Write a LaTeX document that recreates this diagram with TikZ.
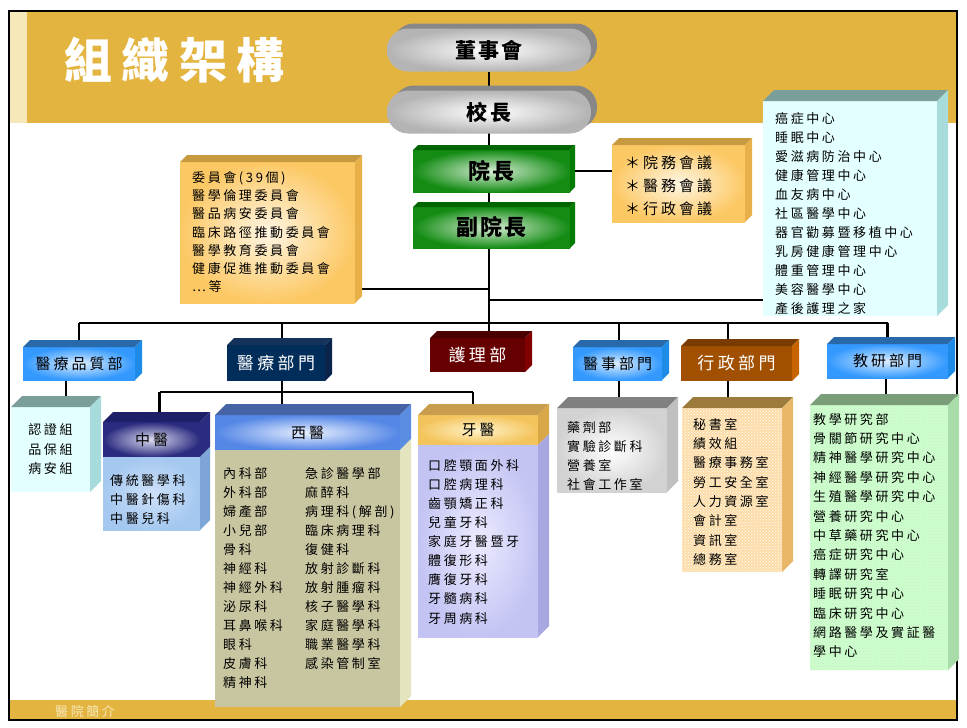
\documentclass[tikz,border=0pt]{standalone}
\usepackage{fontspec}
\setmainfont{Noto Sans CJK TC}
\newfontfamily\listfont[LetterSpace=20]{Noto Sans CJK TC}
\newfontfamily\boldspaced[LetterSpace=10]{Noto Sans CJK TC}
\usetikzlibrary{shadows,patterns}
\pgfdeclarelayer{back}
\pgfdeclarelayer{wires}
\pgfsetlayers{back,wires,main}

% Slide colours
\definecolor{gold}{RGB}{228,180,64}
\definecolor{palegold}{RGB}{246,232,184}
\definecolor{pillgray}{RGB}{180,180,180}
\definecolor{pillshade}{RGB}{135,135,135}
\definecolor{grnedge}{RGB}{20,140,20}
\definecolor{grnmid}{RGB}{215,238,215}
\definecolor{grntop}{RGB}{0,100,0}
\definecolor{grnside}{RGB}{0,125,0}
\definecolor{orgedge}{RGB}{252,200,100}
\definecolor{orgmid}{RGB}{255,246,228}
\definecolor{orgtop}{RGB}{200,154,64}
\definecolor{orgside}{RGB}{232,176,72}
\definecolor{cyanfront}{RGB}{228,255,255}
\definecolor{cyantop}{RGB}{122,158,154}
\definecolor{cyanside}{RGB}{168,220,220}
\definecolor{bluedge}{RGB}{51,153,255}
\definecolor{blumid}{RGB}{220,238,255}
\definecolor{blutop}{RGB}{40,105,170}
\definecolor{bluside}{RGB}{30,140,230}
\definecolor{navy}{RGB}{0,45,90}
\definecolor{navytop}{RGB}{20,50,90}
\definecolor{navyside}{RGB}{10,35,75}
\definecolor{maroon}{RGB}{102,0,0}
\definecolor{maroontop}{RGB}{75,0,0}
\definecolor{maroonside}{RGB}{128,0,0}
\definecolor{rust}{RGB}{160,80,0}
\definecolor{rusttop}{RGB}{120,60,0}
\definecolor{rustside}{RGB}{200,100,0}
\definecolor{indigo}{RGB}{43,43,128}
\definecolor{indigomid}{RGB}{220,220,240}
\definecolor{indigotop}{RGB}{30,30,105}
\definecolor{skyfront}{RGB}{165,200,240}
\definecolor{skymid}{RGB}{205,225,250}
\definecolor{skyside}{RGB}{125,165,215}
\definecolor{westedge}{RGB}{85,135,230}
\definecolor{westmid}{RGB}{232,240,255}
\definecolor{westtop}{RGB}{70,100,165}
\definecolor{westside}{RGB}{90,140,225}
\definecolor{khaki}{RGB}{200,198,160}
\definecolor{khakiside}{RGB}{228,228,190}
\definecolor{toothedge}{RGB}{244,196,92}
\definecolor{toothmid}{RGB}{255,242,200}
\definecolor{toothtop}{RGB}{200,158,78}
\definecolor{toothside}{RGB}{216,168,72}
\definecolor{lavender}{RGB}{196,196,244}
\definecolor{lavmid}{RGB}{235,235,255}
\definecolor{lavside}{RGB}{168,168,224}
\definecolor{silver}{RGB}{210,210,210}
\definecolor{silvertop}{RGB}{128,128,128}
\definecolor{silverside}{RGB}{192,192,192}
\definecolor{peach}{RGB}{252,220,168}
\definecolor{peachtop}{RGB}{156,122,60}
\definecolor{peachside}{RGB}{232,184,104}
\definecolor{mint}{RGB}{204,255,204}
\definecolor{minttop}{RGB}{122,158,122}
\definecolor{mintside}{RGB}{168,220,168}

\tikzset{
  wire/.style={line width=2.6pt},
  plainbox/.style={inner sep=0pt, outer sep=0pt},
  pill/.style={plainbox, rounded corners=21pt, minimum width=204, minimum height=43,
    inner color=white, outer color=pillgray,
    drop shadow={shadow xshift=6pt, shadow yshift=5pt, fill=pillshade, opacity=1},
    font=\fontsize{21}{21}\selectfont\boldspaced\bfseries},
  greenbox/.style={plainbox, minimum width=157, minimum height=42,
    inner color=grnmid, outer color=grnedge,
    font=\fontsize{22}{22}\selectfont\boldspaced\bfseries},
  dept/.style={plainbox, font=\fontsize{15}{15}\selectfont\listfont},
  bigdept/.style={plainbox, text=white, font=\fontsize{17}{17}\selectfont\listfont},
  head/.style={plainbox, font=\fontsize{15}{15}\selectfont\listfont},
  listtext/.style={inner sep=0pt, anchor=north west, align=left,
    font=\fontsize{13}{19}\selectfont\listfont},
}

% 3D faces of a box node: node, depth, colour
\newcommand{\topface}[3]{%
  \fill[#3] (#1.north west) -- ++(#2,-#2) -- ([shift={(#2,-#2)}]#1.north east) -- (#1.north east) -- cycle;}
\newcommand{\sideface}[3]{%
  \fill[#3] (#1.north east) -- ++(#2,-#2) -- ([shift={(#2,-#2)}]#1.south east) -- (#1.south east) -- cycle;}

\begin{document}
\begin{tikzpicture}[x=1pt,y=-1pt]
\useasboundingbox (0,0) rectangle (967,728);

% Slide background
\begin{pgfonlayer}{back}
\fill[white] (0,0) rectangle (967,728);
\fill[palegold] (9,11) rectangle (27,123);
\fill[gold] (27,11) rectangle (957,123);
\fill[gold] (9,700) rectangle (957,720);
\draw[line width=2pt] (9,11) rectangle (957,720);
\end{pgfonlayer}

\node[text=white, anchor=west, inner sep=0pt, font=\fontsize{48}{48}\selectfont\listfont\bfseries] (title) at (64,60) {組織架構};
\node[text=palegold, anchor=west, inner sep=0pt, font=\fontsize{13}{13}\selectfont\listfont] (footer) at (55,712) {醫院簡介};

% Top of the chart
\node[pill] (dongshi) at (489,50) {董事會};
\node[pill] (xiaozhang) at (489,112) {校長};
\node[greenbox] (yuanzhang) at (491.5,171) {院長};
\topface{yuanzhang}{5}{grntop}\sideface{yuanzhang}{5}{grnside}
\node[greenbox, minimum height=41] (fuyuan) at (491.5,227.5) {副院長};
\topface{fuyuan}{5}{grntop}\sideface{fuyuan}{5}{grnside}

% Side boxes
\node[plainbox, minimum width=133, minimum height=77, inner color=orgmid, outer color=orgedge] (huiyi) at (678.5,183.5) {};
\topface{huiyi}{7}{orgtop}\sideface{huiyi}{7}{orgside}
\node[listtext, font=\fontsize{15}{23}\selectfont\listfont] (huiyitext) at (625,156) {＊院務會議\\＊醫務會議\\＊行政會議};

\node[plainbox, minimum width=175, minimum height=141, inner color=orgmid, outer color=orgedge] (weiyuan) at (267.5,232.5) {};
\topface{weiyuan}{7}{orgtop}\sideface{weiyuan}{7}{orgside}
\node[listtext, font=\fontsize{13}{18.3}\selectfont\listfont] (weiyuantext) at (192,171) {委員會(39個)\\醫學倫理委員會\\醫品病安委員會\\臨床路徑推動委員會\\醫學教育委員會\\健康促進推動委員會\\…等};

\node[plainbox, minimum width=174, minimum height=215, fill=cyanfront] (zhongxin) at (850,208.5) {};
\topface{zhongxin}{11}{cyantop}\sideface{zhongxin}{11}{cyanside}
\node[listtext] (zhongxintext) at (775,112) {癌症中心\\睡眠中心\\愛滋病防治中心\\健康管理中心\\血友病中心\\社區醫學中心\\器官勸募暨移植中心\\乳房健康管理中心\\體重管理中心\\美容醫學中心\\產後護理之家};

% Departments
\node[dept, minimum width=112, minimum height=33, inner color=blumid, outer color=bluedge] (zhiliang) at (79,363.5) {醫療品質部};
\topface{zhiliang}{7}{blutop}\sideface{zhiliang}{7}{bluside}
\node[bigdept, minimum width=98, minimum height=36, fill=navy] (yiliao) at (276,363) {醫療部門};
\topface{yiliao}{7}{navytop}\sideface{yiliao}{7}{navyside}
\node[bigdept, minimum width=95, minimum height=34, fill=maroon] (huli) at (477.5,355) {護理部};
\topface{huli}{7}{maroontop}\sideface{huli}{7}{maroonside}
\node[dept, minimum width=89, minimum height=33, inner color=blumid, outer color=bluedge] (yishi) at (617.5,363.5) {醫事部門};
\topface{yishi}{7}{blutop}\sideface{yishi}{7}{bluside}
\node[bigdept, minimum width=111, minimum height=35, fill=rust] (xingzheng) at (736.5,363.5) {行政部門};
\topface{xingzheng}{7}{rusttop}\sideface{xingzheng}{7}{rustside}
\node[dept, minimum width=121, minimum height=34, inner color=blumid, outer color=bluedge] (jiaoyan) at (887.5,361) {教研部門};
\topface{jiaoyan}{7}{blutop}\sideface{jiaoyan}{7}{bluside}

% Units
\node[plainbox, minimum width=79, minimum height=85, fill=cyanfront, align=center,
  font=\fontsize{13}{19.5}\selectfont\listfont] (renzheng) at (50.5,449.5) {認證組\\品保組\\病安組};
\topface{renzheng}{11}{cyantop}\sideface{renzheng}{11}{cyanside}

\node[head, minimum width=97, minimum height=35, inner color=indigomid, outer color=indigo] (zhongyihead) at (151.5,439.5) {中醫};
\node[plainbox, minimum width=97, minimum height=73, inner color=skymid, outer color=skyfront] (zhongyibody) at (151.5,493.5) {};
\topface{zhongyihead}{10}{indigotop}\sideface{zhongyihead}{10}{indigo}\sideface{zhongyibody}{10}{skyside}
\node[listtext] (zhongyitext) at (110,474) {傳統醫學科\\中醫針傷科\\中醫兒科};

\node[head, minimum width=185, minimum height=35, inner color=westmid, outer color=westedge] (xiyihead) at (307.5,432.5) {西醫};
\node[plainbox, minimum width=185, minimum height=257, fill=khaki] (xiyibody) at (307.5,578.5) {};
\topface{xiyihead}{11}{westtop}\sideface{xiyihead}{11}{westside}\sideface{xiyibody}{11}{khakiside}
\node[listtext] (xiyileft) at (223,467) {內科部\\外科部\\婦產部\\小兒部\\骨科\\神經科\\神經外科\\泌尿科\\耳鼻喉科\\眼科\\皮膚科\\精神科};
\node[listtext] (xiyiright) at (305,467) {急診醫學部\\麻醉科\\病理科(解剖)\\臨床病理科\\復健科\\放射診斷科\\放射腫瘤科\\核子醫學科\\家庭醫學科\\職業醫學科\\感染管制室};

\node[head, minimum width=120, minimum height=30, inner color=toothmid, outer color=toothedge] (yayihead) at (478,430) {牙醫};
\node[plainbox, minimum width=120, minimum height=192, inner color=lavmid, outer color=lavender] (yayibody) at (478,541) {};
\topface{yayihead}{11}{toothtop}\sideface{yayihead}{11}{toothside}\sideface{yayibody}{11}{lavside}
\node[listtext, font=\fontsize{13}{19.1}\selectfont\listfont] (yayitext) at (428,459) {口腔顎面外科\\口腔病理科\\齒顎矯正科\\兒童牙科\\家庭牙醫暨牙\\體復形科\\膺復牙科\\牙髓病科\\牙周病科};

\node[plainbox, minimum width=110, minimum height=84, inner color=white, outer color=silver] (yaoji) at (612,450) {};
\topface{yaoji}{11}{silvertop}\sideface{yaoji}{11}{silverside}
\node[listtext] (yaojitext) at (567,421) {藥劑部\\實驗診斷科\\營養室\\社會工作室};

\node[plainbox, minimum width=100, minimum height=164, fill=peach] (mishu) at (732,490) {};
\fill[pattern=crosshatch dots, pattern color=white] (mishu.north west) rectangle (mishu.south east);
\topface{mishu}{11}{peachtop}\sideface{mishu}{11}{peachside}
\node[listtext, font=\fontsize{13}{19.3}\selectfont\listfont] (mishutext) at (693,418) {秘書室\\績效組\\醫療事務室\\勞工安全室\\人力資源室\\會計室\\資訊室\\總務室};

\node[plainbox, minimum width=138, minimum height=265, fill=mint] (jiaoxue) at (879,537.5) {};
\fill[pattern=crosshatch dots, pattern color=mintside!60] (jiaoxue.north west) rectangle (jiaoxue.south east);
\topface{jiaoxue}{11}{minttop}\sideface{jiaoxue}{11}{mintside}
\node[listtext, font=\fontsize{13}{19.4}\selectfont\listfont] (jiaoxuetext) at (813,413) {教學研究部\\骨關節研究中心\\精神醫學研究中心\\神經醫學研究中心\\生殖醫學研究中心\\營養研究中心\\中草藥研究中心\\癌症研究中心\\轉譯研究室\\睡眠研究中心\\臨床研究中心\\網路醫學及實証醫\\學中心};

% Connectors
\begin{pgfonlayer}{wires}
\coordinate (bus) at (489,323);
\coordinate (subbus) at (282,392);
\draw[wire] (dongshi.south) -- (huli.north -| dongshi.south);
\draw[wire] (yuanzhang.east) -- (huiyi.west |- yuanzhang.east);
\draw[wire] ([yshift=-56.5]weiyuan.east) -- ([yshift=-56.5]weiyuan.east -| dongshi.south);
\draw[wire] ([yshift=-91.5]zhongxin.west) -- ([yshift=-91.5]zhongxin.west -| dongshi.south);
\draw[wire] (zhiliang.north |- bus) -- (jiaoyan.north |- bus);
\draw[wire] (zhiliang.north |- bus) -- (zhiliang.north);
\draw[wire] ([xshift=6]yiliao.north |- bus) -- ([xshift=6]yiliao.north);
\draw[wire] ([xshift=1.5]yishi.north |- bus) -- ([xshift=1.5]yishi.north);
\draw[wire] ([xshift=-8.5]xingzheng.north |- bus) -- ([xshift=-8.5]xingzheng.north);
\draw[wire] (jiaoyan.north |- bus) -- (jiaoyan.north);
\draw[wire] ([xshift=-13]zhiliang.south) -- ([xshift=-13]zhiliang.south |- renzheng.north);
\draw[wire] ([xshift=6]yiliao.south) -- ([xshift=6]yiliao.south |- xiyihead.north);
\draw[wire] ([xshift=8]zhongyihead.north |- subbus) -- ([xshift=-5]yayihead.north |- subbus);
\draw[wire] ([xshift=8]zhongyihead.north |- subbus) -- ([xshift=8]zhongyihead.north);
\draw[wire] ([xshift=-5]yayihead.north |- subbus) -- ([xshift=-5]yayihead.north);
\draw[wire] ([xshift=1.5]yishi.south) -- ([xshift=1.5]yishi.south |- yaoji.north);
\draw[wire] ([xshift=-8.5]xingzheng.south) -- ([xshift=-8.5]xingzheng.south |- mishu.north);
\draw[wire] ([xshift=-1.5]jiaoyan.south) -- ([xshift=-1.5]jiaoyan.south |- jiaoxue.north);
\end{pgfonlayer}

\end{tikzpicture}
\end{document}
